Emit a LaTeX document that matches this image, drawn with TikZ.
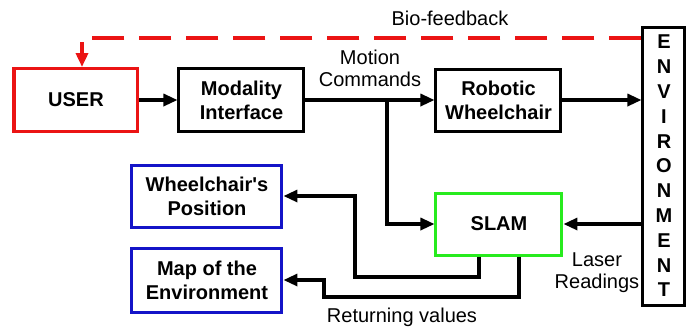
\documentclass[tikz,border=0pt]{standalone}
\usepackage{fontspec}
\setmainfont{Liberation Sans}[Ligatures=TeXOff]
\usetikzlibrary{arrows.meta,calc}

\definecolor{fbred}{RGB}{235,20,20}
\definecolor{slamgreen}{RGB}{40,235,30}
\definecolor{outblue}{RGB}{20,20,200}

\tikzset{
	blk/.style={draw, line width=1.5pt, align=center, inner sep=0pt,
		font=\bfseries\fontsize{10}{12}\selectfont},
	arr/.style={line width=1.6pt, -{Triangle[length=7pt,width=6pt]}},
	fb/.style={draw=fbred, line width=2pt, dash pattern=on 16pt off 7.5pt,
		-{Triangle[length=7pt,width=6pt]}},
	lbl/.style={align=center, font=\fontsize{10}{11}\selectfont}
}

\begin{document}
\begin{tikzpicture}[x=0.5pt,y=-0.5pt]
	\useasboundingbox (0,0) rectangle (693,329);
	
	\node[blk, draw=fbred, minimum width=62pt, minimum height=31.5pt] (user) at (76,100) {USER};
	\node[blk, minimum width=62.5pt, minimum height=31.5pt] (modality) at (241.5,100) {Modality\\Interface};
	\node[blk, minimum width=62.5pt, minimum height=31pt] (robot) at (498.5,100) {Robotic\\Wheelchair};
	\node[blk, minimum width=21pt, minimum height=139pt, font=\bfseries\fontsize{10}{12.4}\selectfont] (env) at (664,166)
		{E\\N\\V\\I\\R\\O\\N\\M\\E\\N\\T};
	\node[blk, draw=slamgreen, minimum width=63pt, minimum height=31pt] (slam) at (499,224) {SLAM};
	\node[blk, draw=outblue, minimum width=75pt, minimum height=31pt] (pos) at (207,196) {Wheelchair's\\Position};
	\node[blk, draw=outblue, minimum width=75pt, minimum height=32pt] (map) at (207,280) {Map of the\\Environment};
	
	% feedback to the user
	\draw[fb] ([yshift=-6pt]env.north west) -| ([xshift=3pt]user.north);
	\node[lbl] (biolbl) at (450,18) {Bio-feedback};
	
	% forward chain
	\draw[arr] (user) -- (modality);
	\draw[arr] (modality) -- (robot);
	\draw[arr] (robot.east) -- (robot.east -| env.west);
	\coordinate (split) at (387,100);
	\draw[arr] (split) |- (slam.west);
	\node[lbl] (motlbl) at (370,68) {Motion\\Commands};
	
	% sensing and outputs
	\draw[arr] (env.west |- slam.east) -- (slam.east);
	\node[lbl] (laslbl) at (597,273) {Laser\\Readings};
	\draw[arr] ($(slam.south)+(-20,0)$) |- (355,277) |- (pos.east);
	\draw[arr] ($(slam.south)+(20,0)$) |- (324,297) |- (map.east);
	\node[lbl] (retlbl) at (402,317) {Returning values};
	
\end{tikzpicture}
\end{document}
